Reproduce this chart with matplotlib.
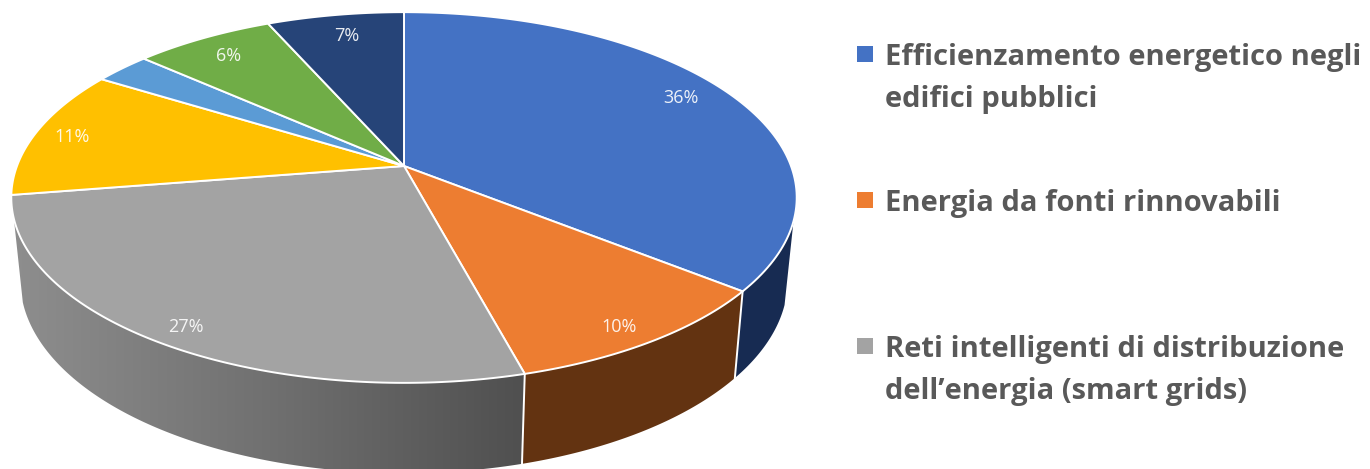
import numpy as np
import matplotlib
matplotlib.use("Agg")
import matplotlib.pyplot as plt
from matplotlib.patches import Polygon, Rectangle
from matplotlib.colors import LinearSegmentedColormap

# Slice shares, clockwise from 12 o'clock, estimated from the rim
VALUES = [35.7, 10.1, 26.7, 11.3, 2.75, 6.8, 6.65]
# Labels as printed on the chart; the small light blue slice has none
SLICE_LABELS = ["36%", "10%", "27%", "11%", "", "6%", "7%"]
COLORS = ["#4472C4", "#ED7D31", "#A3A3A3", "#FFC000", "#5B9BD5", "#70AD47", "#264478"]
WALL_COLORS = ["#172B52", "#633311", None, None, None, None, None]
LEGEND_LABELS = [
    "Efficienzamento energetico negli\nedifici pubblici",
    "Energia da fonti rinnovabili",
    "Reti intelligenti di distribuzione\ndell’energia (smart grids)",
]

# Layout, in pixels of the 1370x469 picture
LABEL_POS = [(681, 98), (619, 327), (186, 327), (72, 137), (0, 0), (229, 56), (347, 36)]
LEGEND_Y = [54, 200, 346]
CX, CY = 404, 166
BX, BY, K = 387, 180, -0.17
WALL_START, WALL_STOP = 0.297, 0.705  # where the side wall leaves the silhouette

plt.rcParams["font.family"] = ["Open Sans", "DejaVu Sans"]


def rim(start, stop, n=120):
    """Points on the top rim, seen in perspective, between two pie fractions."""
    t = np.linspace(start, stop, n) * 2 * np.pi
    x, y = np.sin(t), -np.cos(t)
    d = 1 + K * y
    return np.column_stack([CX + BX * x / d, CY + BY * y / d])


def drop(pts):
    """Same points on the bottom rim of the disc."""
    out = np.empty_like(pts)
    out[:, 0] = CX + 0.977 * (pts[:, 0] - CX)
    out[:, 1] = pts[:, 1] * 1.04 + 75
    return out


fig = plt.figure(figsize=(13.7, 4.69), dpi=100)
ax = fig.add_axes([0, 0, 1, 1])

edges = np.cumsum([0] + VALUES) / sum(VALUES)
gray_cmap = LinearSegmentedColormap.from_list("wall", ["#8E8E8E", "#6F6F6F", "#4D4D4D"])

# side walls first, the top faces then hide whatever sits behind them
for i, (a, b) in enumerate(zip(edges[:-1], edges[1:])):
    a, b = max(a, WALL_START), min(b, WALL_STOP)
    if a >= b or (i != 2 and not WALL_COLORS[i]):
        continue
    top = rim(a, b)
    outline = np.vstack([top, drop(top)[::-1]])
    if i == 2:
        patch = Polygon(outline, closed=True, facecolor="none", edgecolor="none")
        ax.add_patch(patch)
        grad = np.linspace(0, 1, 256)[None, :]
        im = ax.imshow(grad, extent=(12, 545, 469, 150), aspect="auto", cmap=gray_cmap, zorder=1)
        im.set_clip_path(patch)
    else:
        ax.add_patch(Polygon(outline, closed=True, facecolor=WALL_COLORS[i], edgecolor="none", zorder=1))

# white seams on the front of the wall
for f in edges[1:3]:
    p = rim(f, f, 2)
    q = drop(p)
    ax.plot([p[0, 0], q[0, 0]], [p[0, 1], q[0, 1]], color="white", lw=1.4, zorder=2)

for i, (a, b) in enumerate(zip(edges[:-1], edges[1:])):
    top = np.vstack([[CX, CY], rim(a, b)])
    ax.add_patch(Polygon(top, closed=True, facecolor=COLORS[i], edgecolor="white",
                         lw=1.4, joinstyle="round", zorder=3))

for text, pos in zip(SLICE_LABELS, LABEL_POS):
    if text:
        ax.text(pos[0], pos[1], text, color="white", fontsize=13,
                ha="center", va="center", alpha=0.9, zorder=4)

for label, color, y in zip(LEGEND_LABELS, COLORS[:3], LEGEND_Y):
    ax.add_patch(Rectangle((857, y - 8), 16, 16, facecolor=color, edgecolor="none"))
    ax.text(885, y - 11.5, label, color="#595959", fontsize=21, fontweight="bold",
            ha="left", va="top", linespacing=1.6)

ax.set_xlim(0, 1370)
ax.set_ylim(469, 0)
ax.axis("off")
fig.savefig("out.png", dpi=100, facecolor="white")
